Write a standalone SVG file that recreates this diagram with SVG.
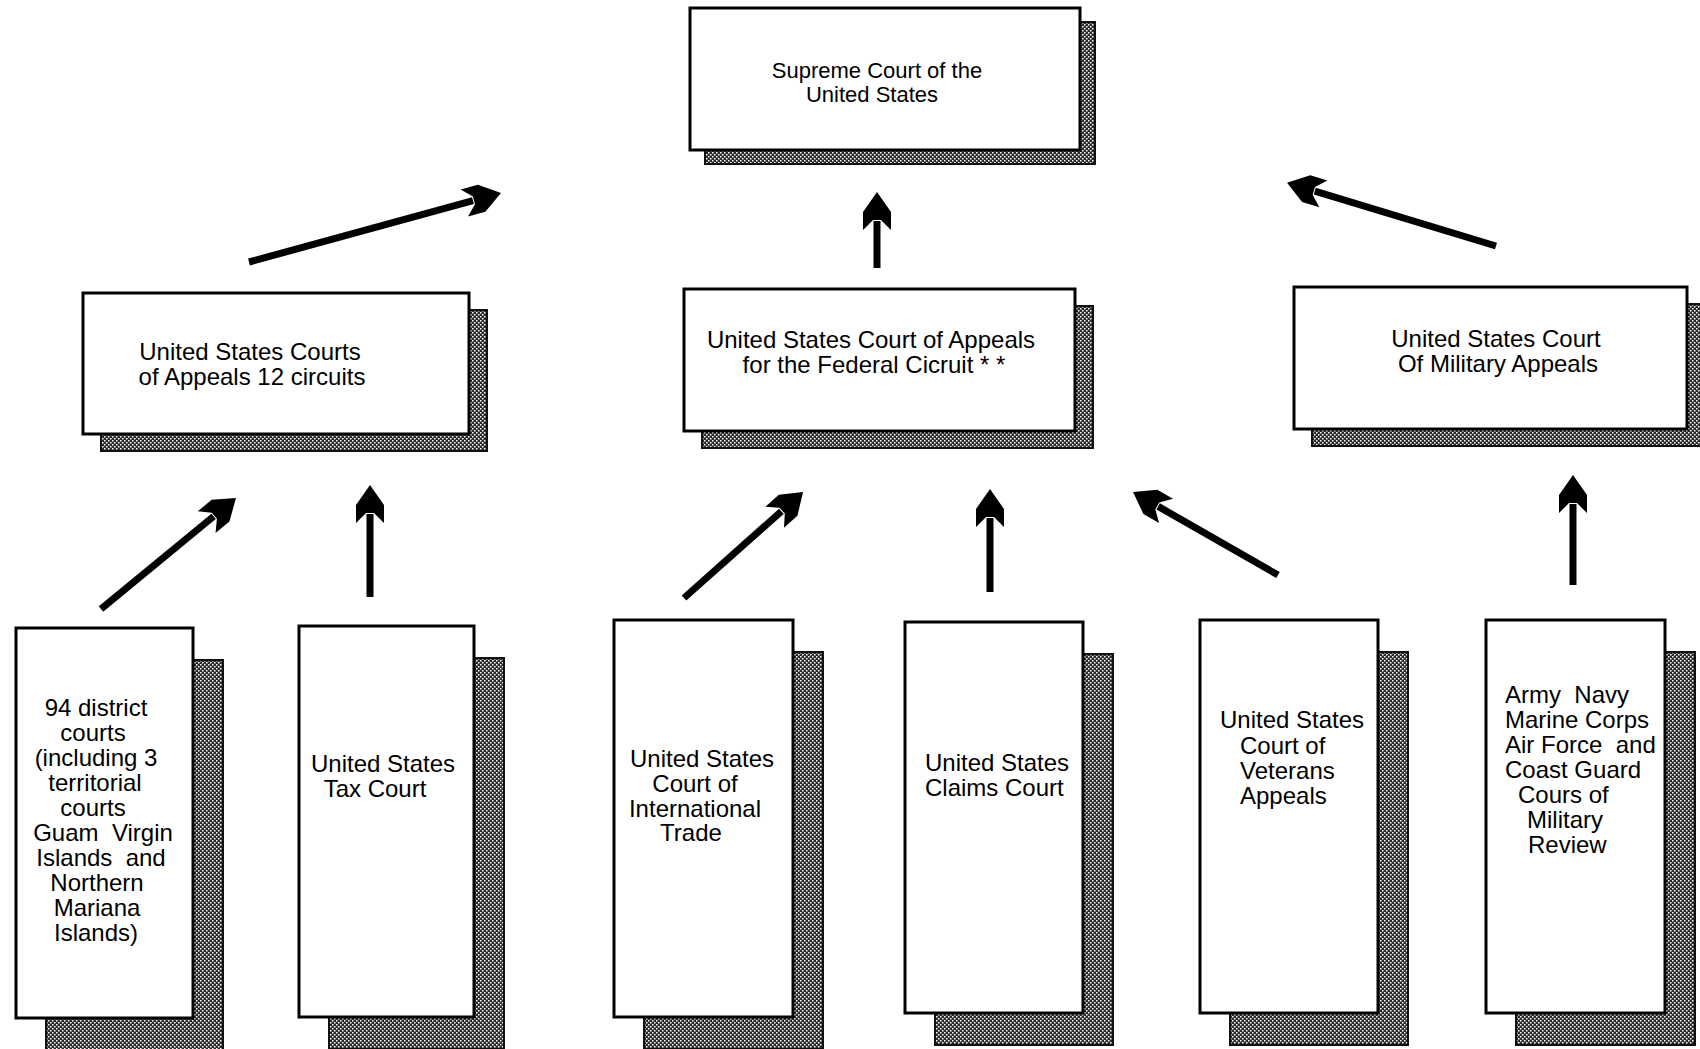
<svg xmlns="http://www.w3.org/2000/svg" width="1700" height="1049" viewBox="0 0 1700 1049">
<style>
.box{fill:#fff;stroke:#000;stroke-width:3}
.sh{fill:url(#stip);stroke:#111;stroke-width:2}
text{font-family:"Liberation Sans",Arial,sans-serif;font-size:24px;fill:#000;white-space:pre}
.sm{font-size:22px}
.c{text-anchor:middle}
.arr{stroke:#000;stroke-width:7;fill:none;marker-end:url(#head)}
</style>
<defs>
<pattern id="stip" width="4" height="4" patternUnits="userSpaceOnUse">
<rect width="4" height="4" fill="#2a2a2a"/>
<rect x="0" y="0" width="1.5" height="1.5" fill="#fff"/>
<rect x="2" y="2" width="1.5" height="1.5" fill="#fff"/>
</pattern>
<marker id="head" markerUnits="userSpaceOnUse" viewBox="-10 -16 42 32" refX="0" refY="0" markerWidth="42" markerHeight="32" orient="auto">
<path d="M29,0 L9,-14 L-9,-14 L1,-4 L1,4 L-9,14 L9,14 Z" fill="#000"/>
</marker>
</defs>

<g id="supreme">
<rect class="sh" x="705" y="22" width="390" height="142"/>
<rect class="box" x="690" y="8" width="390" height="142"/>
<text class="sm c" x="877" y="78">Supreme Court of the</text>
<text class="sm c" x="872" y="102">United States</text>
</g>

<g id="appeals12">
<rect class="sh" x="101" y="310" width="386" height="141"/>
<rect class="box" x="83" y="293" width="386" height="141"/>
<text class="c" x="250" y="360">United States Courts</text>
<text class="c" x="252" y="385">of Appeals 12 circuits</text>
</g>

<g id="federal">
<rect class="sh" x="702" y="306" width="391" height="142"/>
<rect class="box" x="684" y="289" width="391" height="142"/>
<text class="c" x="871" y="348">United States Court of Appeals</text>
<text class="c" x="874" y="373">for the Federal Cicruit * *</text>
</g>

<g id="military">
<rect class="sh" x="1312" y="304" width="393" height="142"/>
<rect class="box" x="1294" y="287" width="393" height="142"/>
<text class="c" x="1496" y="347">United States Court</text>
<text class="c" x="1498" y="372">Of Military Appeals</text>
</g>

<g id="district">
<rect class="sh" x="46" y="660" width="177" height="390"/>
<rect class="box" x="16" y="628" width="177" height="390"/>
<text class="c" x="96" y="716">94 district</text>
<text class="c" x="93" y="741">courts</text>
<text class="c" x="96" y="766">(including 3</text>
<text class="c" x="95" y="791">territorial</text>
<text class="c" x="93" y="816">courts</text>
<text class="c" x="103" y="841">Guam  Virgin</text>
<text class="c" x="101" y="866">Islands  and</text>
<text class="c" x="97" y="891">Northern</text>
<text class="c" x="97" y="916">Mariana</text>
<text class="c" x="96" y="941">Islands)</text>
</g>

<g id="tax">
<rect class="sh" x="329" y="658" width="175" height="391"/>
<rect class="box" x="299" y="626" width="175" height="391"/>
<text class="c" x="383" y="772">United States</text>
<text class="c" x="375" y="797">Tax Court</text>
</g>

<g id="trade">
<rect class="sh" x="644" y="652" width="179" height="397"/>
<rect class="box" x="614" y="620" width="179" height="397"/>
<text class="c" x="702" y="767">United States</text>
<text class="c" x="695" y="792">Court of</text>
<text class="c" x="695" y="817">International</text>
<text class="c" x="691" y="841">Trade</text>
</g>

<g id="claims">
<rect class="sh" x="935" y="654" width="178" height="391"/>
<rect class="box" x="905" y="622" width="178" height="391"/>
<text x="925" y="771">United States</text>
<text x="925" y="796">Claims Court</text>
</g>

<g id="veterans">
<rect class="sh" x="1230" y="652" width="178" height="393"/>
<rect class="box" x="1200" y="620" width="178" height="393"/>
<text x="1220" y="728">United States</text>
<text x="1240" y="754">Court of</text>
<text x="1240" y="779">Veterans</text>
<text x="1240" y="804">Appeals</text>
</g>

<g id="review">
<rect class="sh" x="1516" y="652" width="179" height="393"/>
<rect class="box" x="1486" y="620" width="179" height="393"/>
<text x="1505" y="703">Army  Navy</text>
<text x="1505" y="728">Marine Corps</text>
<text x="1505" y="753">Air Force  and</text>
<text x="1505" y="778">Coast Guard</text>
<text x="1518" y="803">Cours of</text>
<text x="1527" y="828">Military</text>
<text x="1528" y="853">Review</text>
</g>

<g id="connectors">
<path class="arr" d="M249,262 L473,200.7"/>
<path class="arr" d="M877,268 L877,221"/>
<path class="arr" d="M1496,246 L1314.8,191.2"/>
<path class="arr" d="M101,609 L213.6,516.4"/>
<path class="arr" d="M370,597 L370,514"/>
<path class="arr" d="M684,598 L781.4,511.3"/>
<path class="arr" d="M990,592 L990,518"/>
<path class="arr" d="M1278,575 L1158.2,506.4"/>
<path class="arr" d="M1573,585 L1573,504"/>
</g>
</svg>
